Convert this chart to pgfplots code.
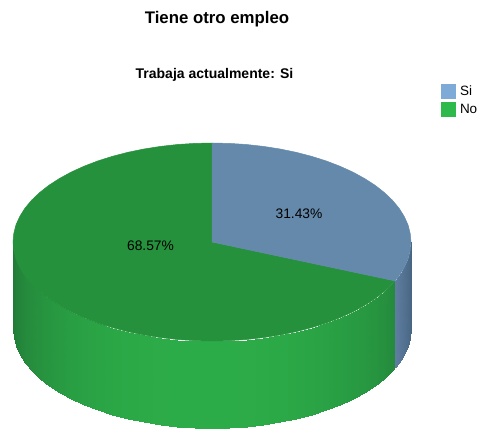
\documentclass[border=0pt]{standalone}
\usepackage{pgfplots}
\pgfplotsset{compat=1.18}
\usepackage{fontspec}
\setmainfont{Liberation Sans}
\definecolor{topgreen}{RGB}{38,145,60}
\definecolor{topblue}{RGB}{100,137,170}
\definecolor{legblue}{RGB}{125,170,215}
\definecolor{leggreen}{RGB}{45,185,75}
\begin{document}
\begin{tikzpicture}
\begin{axis}[
  scale only axis, width=480pt, height=429pt,
  xmin=0, xmax=480, ymin=0, ymax=429, y dir=reverse,
  axis line style={draw=none}, xtick=\empty, ytick=\empty, clip=false,
  point meta min=0, point meta max=1,
  legend style={draw=none, fill=none, at={(axis cs:441,84)}, anchor=north west,
    inner sep=0pt, outer sep=0pt, font=\fontsize{13.5}{13.5}\selectfont,
    row sep=3pt},
  legend cell align=left,
  legend image code/.code={\fill[#1] (0pt,-7.5pt) rectangle (15pt,7.5pt);},
]
% blue wall
\addplot[surf, shader=interp, forget plot, mesh/ordering=y varies, mesh/rows=2,
  colormap={bw}{rgb255(0)=(72,102,130); rgb255(1)=(94,125,160)},
  point meta=\thisrow{c}] table {
x y c
411.0 242.0 0.0
411.0 329.0 0.0
410.2 250.6 0.1
410.2 337.6 0.1
408.0 259.2 0.25
408.0 346.2 0.25
404.2 267.6 0.5
404.2 354.6 0.5
399.0 275.9 0.8
399.0 362.9 0.8
395.0 280.9 1.0
395.0 367.9 1.0
};
% green wall
\addplot[surf, shader=interp, forget plot, mesh/ordering=y varies, mesh/rows=2,
  colormap={gw}{rgb255(0)=(33,122,55); rgb255(1)=(44,172,72)},
  point meta=\thisrow{c}] table {
x y c
395.0 280.9 0.30
395.0 367.9 0.30
392.4 283.8 0.35
392.4 370.8 0.35
384.3 291.5 0.45
384.3 378.5 0.45
375.0 298.8 0.52
375.0 385.8 0.52
364.4 305.6 0.60
364.4 392.6 0.60
352.7 312.0 0.66
352.7 399.0 0.66
339.9 317.8 0.72
339.9 404.8 0.72
326.1 323.1 0.78
326.1 410.1 0.78
311.5 327.7 0.84
311.5 414.7 0.84
296.1 331.7 0.89
296.1 418.7 0.89
280.1 335.0 0.93
280.1 422.0 0.93
263.5 337.6 0.96
263.5 424.6 0.96
246.5 339.5 0.98
246.5 426.5 0.98
229.4 340.6 1.00
229.4 427.6 1.00
212.0 341.0 1.00
212.0 428.0 1.00
194.6 340.6 1.00
194.6 427.6 1.00
177.5 339.5 1.00
177.5 426.5 1.00
160.5 337.6 0.98
160.5 424.6 0.98
143.9 335.0 0.96
143.9 422.0 0.96
127.9 331.7 0.93
127.9 418.7 0.93
112.5 327.7 0.89
112.5 414.7 0.89
97.9 323.1 0.84
97.9 410.1 0.84
84.1 317.8 0.78
84.1 404.8 0.78
71.3 312.0 0.72
71.3 399.0 0.72
59.6 305.6 0.64
59.6 392.6 0.64
49.0 298.8 0.56
49.0 385.8 0.56
39.7 291.5 0.48
39.7 378.5 0.48
31.6 283.8 0.40
31.6 370.8 0.40
25.0 275.9 0.32
25.0 362.9 0.32
19.8 267.6 0.22
19.8 354.6 0.22
16.0 259.2 0.14
16.0 346.2 0.14
13.8 250.6 0.06
13.8 337.6 0.06
13.0 242.0 0.00
13.0 329.0 0.00
};
% top face: No, 68.57 %
\addplot[fill=topgreen, draw=topgreen, line width=0.5pt, forget plot] coordinates {
(212,242) (395.0,280.9) (392.4,283.8) (384.3,291.5) (375.0,298.8) (364.4,305.6)
(352.7,312.0) (339.9,317.8) (326.1,323.1) (311.5,327.7) (296.1,331.7) (280.1,335.0)
(263.5,337.6) (246.5,339.5) (229.4,340.6) (212.0,341.0) (194.6,340.6) (177.5,339.5)
(160.5,337.6) (143.9,335.0) (127.9,331.7) (112.5,327.7) (97.9,323.1) (84.1,317.8)
(71.3,312.0) (59.6,305.6) (49.0,298.8) (39.7,291.5) (31.6,283.8) (25.0,275.9)
(19.8,267.6) (16.0,259.2) (13.8,250.6) (13.0,242.0) (13.8,233.4) (16.0,224.8)
(19.8,216.4) (25.0,208.1) (31.6,200.2) (39.7,192.5) (49.0,185.2) (59.6,178.4)
(71.3,172.0) (84.1,166.2) (97.9,160.9) (112.5,156.3) (127.9,152.3) (143.9,149.0)
(160.5,146.4) (177.5,144.5) (194.6,143.4) (212.0,143.0) (212,242)
} -- cycle;
% top face: Si, 31.43 %
\addplot[fill=topblue, draw=topblue, line width=0.5pt, forget plot] coordinates {
(212,242) (212.0,143.0) (229.4,143.4) (246.5,144.5) (263.5,146.4) (280.1,149.0)
(296.1,152.3) (311.5,156.3) (326.1,160.9) (339.9,166.2) (352.7,172.0) (364.4,178.4)
(375.0,185.2) (384.3,192.5) (392.4,200.2) (399.0,208.1) (404.2,216.4) (408.0,224.8)
(410.2,233.4) (411.0,242.0) (410.2,250.6) (408.0,259.2) (404.2,267.6) (399.0,275.9)
(395.0,280.9) (212,242)
} -- cycle;
\addlegendimage{fill=legblue, draw=none}
\addlegendentry{\hspace{2pt}Si}
\addlegendimage{fill=leggreen, draw=none}
\addlegendentry{\hspace{2pt}No}
\node[font=\bfseries\fontsize{16.8}{16.8}\selectfont] at (axis cs:217,19) {Tiene otro empleo};
\node[font=\bfseries\fontsize{14}{14}\selectfont] at (axis cs:214.5,74.5) {Trabaja actualmente: Si};
\node[font=\fontsize{13.8}{13.8}\selectfont] at (axis cs:299,214) {31.43\%};
\node[font=\fontsize{13.8}{13.8}\selectfont] at (axis cs:150.5,246) {68.57\%};
\end{axis}
\end{tikzpicture}
\end{document}
